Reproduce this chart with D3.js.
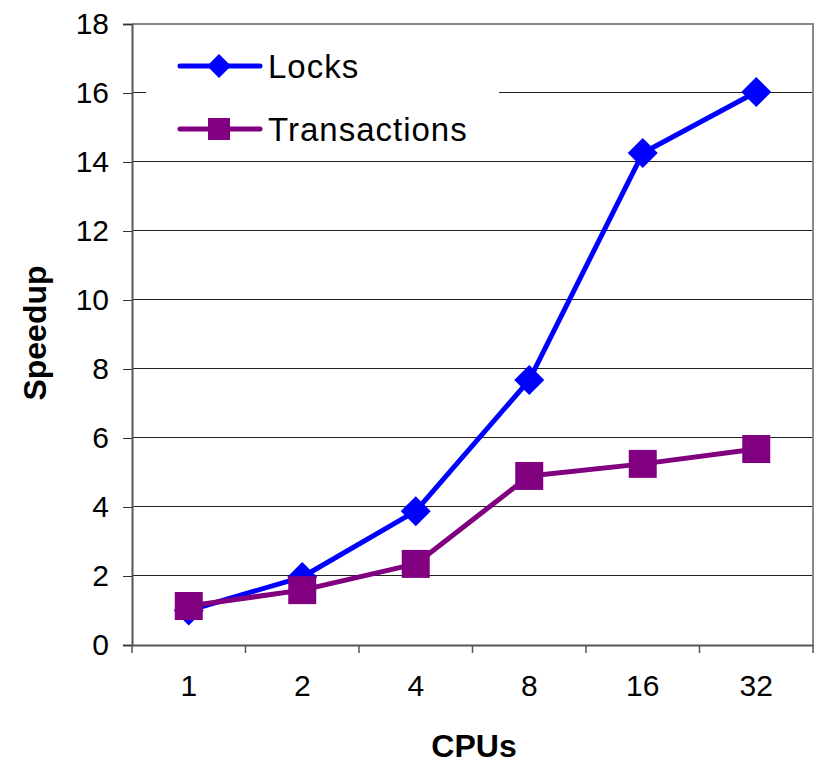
<!DOCTYPE html>
<html>
<head>
<meta charset="utf-8">
<script src="https://cdn.jsdelivr.net/npm/d3@7"></script>
<style>
  html, body { margin: 0; padding: 0; background: #fff; }
  svg { display: block; font-family: "Liberation Sans", Arial, sans-serif; }
</style>
</head>
<body>
<svg id="chart" width="814" height="764"></svg>
<script>
// Speedup of lock-based vs transactional code by CPU count
const cpus = ["1", "2", "4", "8", "16", "32"];
const locks = [1.0, 1.97, 3.88, 7.68, 14.26, 16.03];
const transactions = [1.13, 1.59, 2.35, 4.9, 5.25, 5.68];
const yTicks = [0, 2, 4, 6, 8, 10, 12, 14, 16, 18];
const seriesNames = ["Locks", "Transactions"];
const seriesColors = ["#0000ff", "#800080"];

const svg = d3.select("#chart");
const margin = { left: 132, top: 24, right: 813, bottom: 645 };

const x = d3.scaleBand().domain(cpus).range([margin.left, margin.right]);
const y = d3.scaleLinear().domain([0, 18]).range([margin.bottom, margin.top]);

// gridlines
svg.append("g")
  .selectAll("line")
  .data(yTicks.filter(d => d > 0 && d < 18))
  .join("line")
  .attr("x1", margin.left).attr("x2", margin.right)
  .attr("y1", d => Math.round(y(d)) - 0.5).attr("y2", d => Math.round(y(d)) - 0.5)
  .attr("stroke", "#222").attr("stroke-width", 1);

// plot frame (top and right edges)
svg.append("path")
  .attr("d", `M${margin.left},${margin.top}H${margin.right}V${margin.bottom}`)
  .attr("fill", "none").attr("stroke", "#888").attr("stroke-width", 2);

// legend background hides the gridline behind it
const legend = svg.append("g");
legend.append("rect")
  .attr("x", 146).attr("y", 26).attr("width", 353).attr("height", 128)
  .attr("fill", "#fff");

// y axis
const yAxis = svg.append("g")
  .attr("transform", `translate(${margin.left},0)`)
  .call(d3.axisLeft(y).tickValues(yTicks).tickSize(9).tickPadding(14).tickFormat(d3.format("d")));
yAxis.select(".domain").attr("stroke", "#555").attr("stroke-width", 2);
yAxis.selectAll(".tick line").attr("stroke", "#333");
yAxis.selectAll("text").attr("font-size", 30).attr("fill", "#000")
  .attr("font-family", "Liberation Sans, Arial, sans-serif");

// x axis with ticks between categories
const xAxis = svg.append("g")
  .attr("transform", `translate(0,${margin.bottom})`)
  .call(d3.axisBottom(x).tickSize(0).tickPadding(30));
xAxis.select(".domain").attr("stroke", "#555").attr("stroke-width", 2);
xAxis.selectAll("text").attr("font-size", 30).attr("fill", "#000")
  .attr("font-family", "Liberation Sans, Arial, sans-serif");
xAxis.selectAll(".sep")
  .data(cpus.concat(["end"]))
  .join("line")
  .attr("class", "sep")
  .attr("x1", (d, i) => margin.left + i * x.bandwidth())
  .attr("x2", (d, i) => margin.left + i * x.bandwidth())
  .attr("y1", 0).attr("y2", 8)
  .attr("stroke", "#555").attr("stroke-width", 1.5);

// axis titles
svg.append("text")
  .attr("x", 474)
  .attr("y", 757)
  .attr("text-anchor", "middle")
  .attr("font-size", 32).attr("font-weight", "bold")
  .text("CPUs");
svg.append("text")
  .attr("transform", `translate(46,333) rotate(-90)`)
  .attr("text-anchor", "middle")
  .attr("font-size", 32).attr("font-weight", "bold")
  .text("Speedup");

// series
const diamond = s => `M0,${-s}L${s},0L0,${s}L${-s},0Z`;
const square = s => `M${-s},${-s}H${s}V${s}H${-s}Z`;
const line = d3.line().x((d, i) => x(cpus[i]) + x.bandwidth() / 2).y(d => y(d));

const series = [
  { name: seriesNames[0], values: locks, color: seriesColors[0], shape: diamond, size: 15 },
  { name: seriesNames[1], values: transactions, color: seriesColors[1], shape: square, size: 14 }
];

series.forEach(s => {
  const g = svg.append("g");
  g.append("path")
    .attr("d", line(s.values))
    .attr("fill", "none").attr("stroke", s.color).attr("stroke-width", 5)
    .attr("stroke-linejoin", "round");
  g.selectAll("path.m")
    .data(s.values)
    .join("path")
    .attr("class", "m")
    .attr("transform", (d, i) => `translate(${x(cpus[i]) + x.bandwidth() / 2},${y(d)})`)
    .attr("d", s.shape(s.size))
    .attr("fill", s.color);
});

// legend entries
series.forEach((s, i) => {
  const ly = 66 + i * 63;
  legend.append("line")
    .attr("x1", 180).attr("x2", 260).attr("y1", ly).attr("y2", ly)
    .attr("stroke", s.color).attr("stroke-width", 5).attr("stroke-linecap", "round");
  legend.append("path")
    .attr("transform", `translate(219,${ly})`)
    .attr("d", s.shape(i === 0 ? 12 : 11))
    .attr("fill", s.color);
  legend.append("text")
    .attr("x", 268).attr("y", ly + 12)
    .attr("font-size", 33)
    .attr("letter-spacing", 1)
    .text(s.name);
});
</script>
</body>
</html>
